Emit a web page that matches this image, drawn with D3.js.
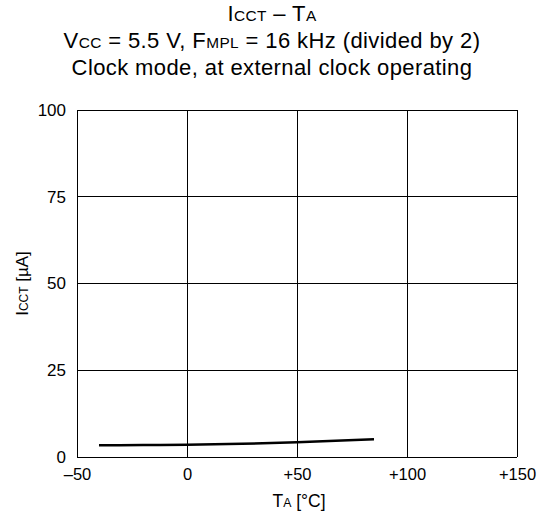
<!DOCTYPE html>
<html><head><meta charset="utf-8">
<script src="https://cdn.jsdelivr.net/npm/d3@7"></script>
<style>body{margin:0;background:#fff}svg{display:block;font-family:"Liberation Sans",Arial,sans-serif}</style>
</head><body><svg id="c" width="541" height="518"></svg>
<script>
const temps = [-40, -20, 0, 25, 50, 85];
const icct = [3.4, 3.45, 3.55, 3.8, 4.25, 5.1];
const xTicks = [-50, 0, 50, 100, 150];
const xTickLabels = ["\u201350", "0", "+50", "+100", "+150"];
const yTicks = [0, 25, 50, 75, 100];

const svg = d3.select("#c");
const m = {l: 77, r: 517, t: 110, b: 457};
const x = d3.scaleLinear().domain([-50, 150]).range([m.l, m.r]);
const y = d3.scaleLinear().domain([0, 100]).range([m.b, m.t]);

// gridlines
svg.append("g").selectAll("line").data(xTicks).join("line")
  .attr("x1", d => x(d)).attr("x2", d => x(d)).attr("y1", m.t).attr("y2", m.b)
  .attr("stroke", "#000").attr("stroke-width", 1).attr("shape-rendering", "crispEdges");
svg.append("g").selectAll("line").data(yTicks).join("line")
  .attr("x1", m.l).attr("x2", m.r).attr("y1", d => y(d)).attr("y2", d => y(d))
  .attr("stroke", "#000").attr("stroke-width", 1).attr("shape-rendering", "crispEdges");

// axes labels
const xa = d3.axisBottom(x).tickValues(xTicks).tickFormat((d, i) => xTickLabels[i]).tickSize(0).tickPadding(11);
const gx = svg.append("g").attr("transform", `translate(0,${m.b})`).call(xa);
gx.select(".domain").remove();
gx.selectAll("text").attr("font-size", 16.5).attr("fill", "#000").attr("font-family", "Liberation Sans, Arial, sans-serif");

const ya = d3.axisLeft(y).tickValues(yTicks).tickSize(0).tickPadding(11);
const gy = svg.append("g").attr("transform", `translate(${m.l},0)`).call(ya);
gy.select(".domain").remove();
gy.selectAll("text").attr("font-size", 17).attr("fill", "#000").attr("font-family", "Liberation Sans, Arial, sans-serif");

// curve
const line = d3.line().x((d, i) => x(temps[i])).y(d => y(d)).curve(d3.curveMonotoneX);
svg.append("path").datum(icct).attr("d", line).attr("fill", "none")
  .attr("stroke", "#000").attr("stroke-width", 2.5);

// titles
function sub(t, parts, size) {
  parts.forEach(p => {
    t.append("tspan").text(p[0]).attr("font-size", p[1] ? size * 0.7 : size);
  });
}
const cx = 272;
let t1 = svg.append("text").attr("x", cx).attr("y", 21).attr("text-anchor", "middle").attr("letter-spacing", 0.4);
sub(t1, [["I", 0], ["CCT", 1], [" \u2013 T", 0], ["A", 1]], 22);
let t2 = svg.append("text").attr("x", cx).attr("y", 48).attr("text-anchor", "middle").attr("letter-spacing", 0.4);
sub(t2, [["V", 0], ["CC", 1], [" = 5.5 V, F", 0], ["MPL", 1], [" = 16 kHz (divided by 2)", 0]], 22);
let t3 = svg.append("text").attr("x", cx).attr("y", 75).attr("text-anchor", "middle").attr("letter-spacing", 0.4);
sub(t3, [["Clock mode, at external clock operating", 0]], 22);

let tx = svg.append("text").attr("x", 299).attr("y", 507).attr("text-anchor", "middle");
sub(tx, [["T", 0], ["A", 1], [" [\u00b0C]", 0]], 17.5);

let ty = svg.append("text").attr("transform", `translate(28,${y(50)}) rotate(-90)`).attr("text-anchor", "middle");
sub(ty, [["I", 0], ["CCT", 1], [" [\u00b5A]", 0]], 17);
</script></body></html>
